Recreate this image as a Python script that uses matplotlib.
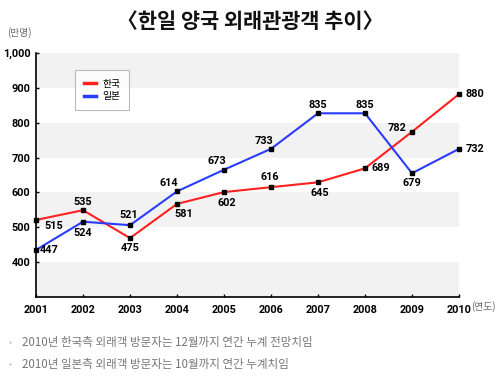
import matplotlib
matplotlib.use('Agg')
import matplotlib.pyplot as plt

plt.rcParams['font.family'] = ['Noto Sans CJK KR', 'DejaVu Sans']

# 데이터
years = [2001, 2002, 2003, 2004, 2005, 2006, 2007, 2008, 2009, 2010]
korea = [521, 549, 469, 567, 601, 615, 629, 669, 774, 882]
japan = [435, 516, 506, 603, 665, 725, 827, 827, 655, 725]
korea_labels = ['515', '535', '475', '581', '602', '616', '645', '689', '782', '880']
japan_labels = ['447', '524', '521', '614', '673', '733', '835', '835', '679', '732']
yticks = [400, 500, 600, 700, 800, 900, 1000]
ytick_labels = ['400', '500', '600', '700', '800', '900', '1,000']
notes = ['2010년 한국측 외래객 방문자는 12월까지 연간 누계 전망치임',
         '2010년 일본측 외래객 방문자는 10월까지 연간 누계치임']

# 라벨 위치 (offset points)
korea_off = [(13, -4, 'center'), (0, 6, 'center'), (0, -7, 'center'), (5, -7, 'center'),
             (2, -8, 'center'), (-1, 7, 'center'), (1, -8, 'center'), (5, 0, 'left'),
             (-4, 3, 'right'), (5, 0, 'left')]
japan_off = [(3, 0, 'left'), (0, -8, 'center'), (-1, 7, 'center'), (-6, 6, 'center'),
             (-5, 6, 'center'), (-5, 6, 'center'), (0, 6, 'center'), (0, 6, 'center'),
             (0, -7, 'center'), (5, 0, 'left')]

fig = plt.figure(figsize=(5, 3.84), dpi=100)
ax = fig.add_axes([0.072, 0.2266, 0.846, 0.6354])

# 배경 띠
for lo in [300, 500, 700, 900]:
    ax.axhspan(lo, lo + 100, color='#f2f2f2', lw=0, zorder=0)

ax.plot(years, korea, color='#ff2020', lw=1.5, marker='s', ms=3.5,
        mfc='black', mec='black', label='한국', clip_on=False, zorder=3)
ax.plot(years, japan, color='#2a3cff', lw=1.5, marker='s', ms=3.5,
        mfc='black', mec='black', label='일본', clip_on=False, zorder=3)

num_font = dict(family=['Roboto', 'DejaVu Sans'], fontweight='bold', fontsize=7.8)
for x, y, t, (dx, dy, ha) in zip(years, korea, korea_labels, korea_off):
    ax.annotate(t, (x, y), xytext=(dx, dy), textcoords='offset points',
                ha=ha, va='center', color='black', **num_font)
for x, y, t, (dx, dy, ha) in zip(years, japan, japan_labels, japan_off):
    ax.annotate(t, (x, y), xytext=(dx, dy), textcoords='offset points',
                ha=ha, va='center', color='black', **num_font)

ax.set_xlim(2001, 2010)
ax.set_ylim(300, 1000)
ax.set_xticks(years)
ax.set_xticklabels([str(y) for y in years], **num_font)
ax.set_yticks(yticks)
ax.set_yticklabels(ytick_labels, **num_font)
ax.tick_params(axis='both', direction='in', length=2.5, width=1, color='black', pad=4)
ax.tick_params(axis='x', pad=6)
for s in ['top', 'right']:
    ax.spines[s].set_visible(False)
for s in ['left', 'bottom']:
    ax.spines[s].set_linewidth(1.2)
    ax.spines[s].set_color('black')

leg = ax.legend(loc='upper left', bbox_to_anchor=(0.092, 0.93), fontsize=7,
                frameon=True, fancybox=False, edgecolor='#aaaaaa',
                handlelength=1.3, borderpad=0.9, labelspacing=0.25,
                handletextpad=0.6, borderaxespad=0)
for h in leg.get_lines():
    h.set_marker('')
    h.set_linewidth(2.5)
leg.get_frame().set_linewidth(0.8)

fig.text(0.5, 0.943, '〈한일 양국 외래관광객 추이〉', ha='center', va='center',
         fontsize=15, fontweight='semibold', color='#111111')
fig.text(0.014, 0.915, '(만명)', ha='left', va='center', fontsize=7, color='#666666')
fig.text(0.943, 0.203, '(연도)', ha='left', va='center', fontsize=7, color='#666666')

for i, n in enumerate(notes):
    yy = 0.107 - i * 0.057
    fig.text(0.018, yy, '•', ha='left', va='center', fontsize=7, color='#cccccc')
    fig.text(0.044, yy, n, ha='left', va='center', fontsize=8.3, color='#777777')

fig.savefig('out.png', dpi=100)
